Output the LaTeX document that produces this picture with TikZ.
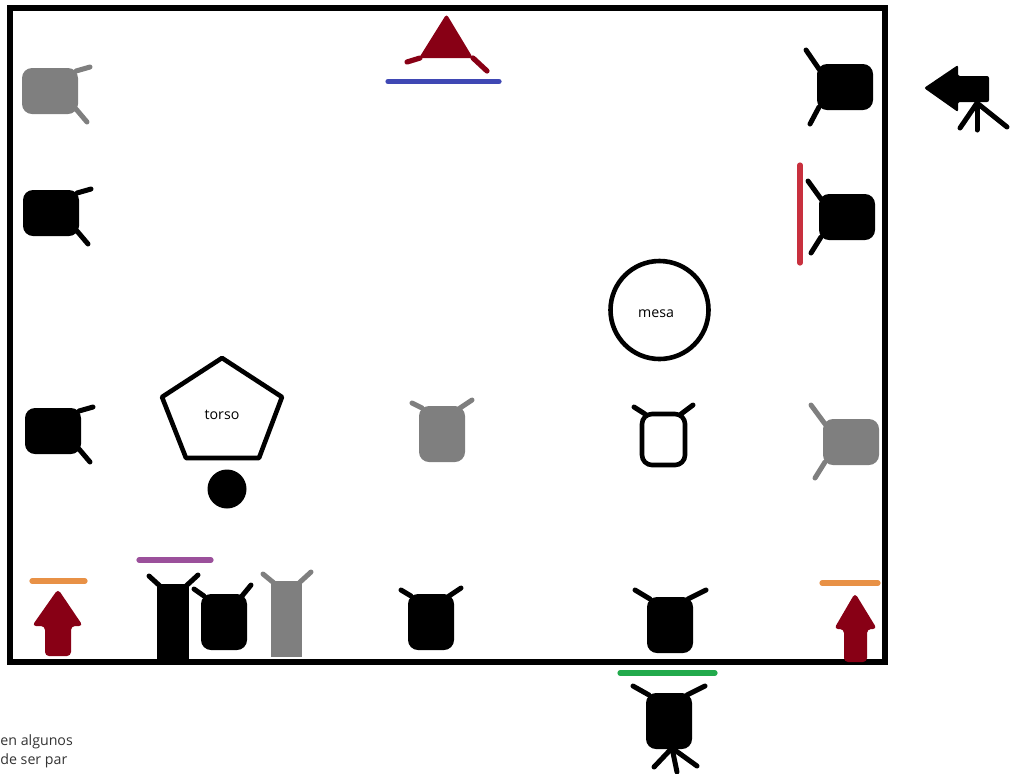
\documentclass[tikz,border=0pt]{standalone}
\usepackage{fontspec}
\setmainfont{Open Sans}
\usetikzlibrary{arrows.meta}
\definecolor{DarkRed}{RGB}{136,0,21}
\definecolor{MidGray}{RGB}{127,127,127}
\definecolor{LineBlue}{RGB}{63,72,180}
\definecolor{LineRed}{RGB}{200,48,62}
\definecolor{LineOrange}{RGB}{232,145,70}
\definecolor{LinePurple}{RGB}{155,80,155}
\definecolor{LineGreen}{RGB}{34,170,76}
\tikzset{
  gel/.style={line width=2.6pt, line cap=round},
  leg/.style={line width=2.5pt, line cap=round},
  prop/.style={line width=2.3pt, line join=round},
  label/.style={font=\fontsize{7.1}{8.5}\selectfont, inner sep=0pt},
}
% fixture: centre x, centre y, rotation, colour, tip of one horn, tip of the other
\newcommand{\fixture}[6]{
  \begin{scope}[shift={(#1,#2)}, rotate=#3]
    \fill[#4, rounded corners=5pt] (-23,-28) rectangle (23,28);
    \draw[#4, leg] (-20,-26) -- (#5);
    \draw[#4, leg] (18,-26) -- (#6);
  \end{scope}
}
\begin{document}
\begin{tikzpicture}[x=0.5pt, y=-0.5pt]
  \useasboundingbox (0,0) rectangle (1010,773);
  \draw[line width=3pt] (10,8) rectangle (884.5,662);
  % left column
  \fixture{50}{91}{-90}{MidGray}{-24,-40}{31,-37}
  \fixture{51}{213}{-90}{black}{-24,-40}{31,-37}
  \fixture{53}{431}{-90}{black}{-24,-40}{31,-37}
  % right column
  \fixture{845}{87}{90}{black}{-37,-35}{37,-39}
  \fixture{847}{217}{90}{black}{-36,-36}{36,-39}
  \fixture{851}{442}{90}{MidGray}{-36,-36}{37,-40}
  % middle
  \fixture{442}{434}{0}{MidGray}{-30,-31}{30,-34}
  \begin{scope}[shift={(663,439)}]
    \draw[prop, rounded corners=5pt] (-21,-25) rectangle (22,26);
    \draw[leg] (-18,-25) -- (-29,-32);
    \draw[leg] (18,-25) -- (30,-34);
  \end{scope}
  % bottom row
  \fixture{224}{622}{0}{black}{-30,-33}{27,-37}
  \fixture{431}{622}{0}{black}{-30,-32}{30,-34}
  \fixture{670}{625}{0}{black}{-35,-35}{36,-35}
  \fixture{669}{721}{0}{black}{-36,-35}{36,-35}
  \draw[leg] (672,748) -- (654,767);
  \draw[leg] (672,748) -- (677,772);
  \draw[leg] (672,748) -- (697,766);
  % tall ones
  \fill (157,584) rectangle (189,662);
  \draw[leg] (160,586) -- (149,576);
  \draw[leg] (186,586) -- (198,575);
  \fill[MidGray] (271,581) rectangle (302,657);
  \draw[MidGray, leg] (274,583) -- (263,574);
  \draw[MidGray, leg] (299,583) -- (311,572);
  % arrows
  \fill[DarkRed, rounded corners=2pt] (58,589) -- (83,626) -- (71,626) -- (71,656) -- (45,656) -- (45,626) -- (32,626) -- cycle;
  \fill[DarkRed, rounded corners=2pt] (855,593) -- (877,629) -- (867,629) -- (867,662) -- (844,662) -- (844,629) -- (834,629) -- cycle;
  \fill[DarkRed, rounded corners=1.5pt] (446.5,14) -- (473,58) -- (419,58) -- cycle;
  \draw[DarkRed, gel] (420,58) -- (407,62);
  \draw[DarkRed, gel] (473,58) -- (487,71);
  % camera
  \fill[rounded corners=1pt] (924,88) -- (958,65) -- (958,76) -- (989,76) -- (989,102) -- (958,102) -- (958,112) -- cycle;
  \draw[leg] (977,103) -- (960,128);
  \draw[leg] (977,103) -- (977,130);
  \draw[leg] (977,103) -- (1007,127);
  % gels
  \draw[LineBlue, gel] (388,81.5) -- (499,81.5);
  \draw[LineRed, gel] (800,165) -- (800,263);
  \draw[LineOrange, gel] (32,581) -- (85,581);
  \draw[LineOrange, gel] (822,583) -- (878,583);
  \draw[LinePurple, gel] (139,560) -- (211,560);
  \draw[LineGreen, gel] (620,673) -- (715,673);
  % props
  \draw[prop] (659.5,310) circle (49);
  \node[label] (mesa) at (656,314) {mesa};
  \draw[prop] (222,358) -- (282,397) -- (259,458) -- (186,458) -- (162,397) -- cycle;
  \node[label] (torso) at (222,415) {torso};
  \fill (227,489) circle (19.5);
  % clipped note
  \node[label, anchor=base west, black!80] (note1) at (0,745) {en algunos};
  \node[label, anchor=base west, black!80] (note2) at (0,764) {de ser par};
\end{tikzpicture}
\end{document}
